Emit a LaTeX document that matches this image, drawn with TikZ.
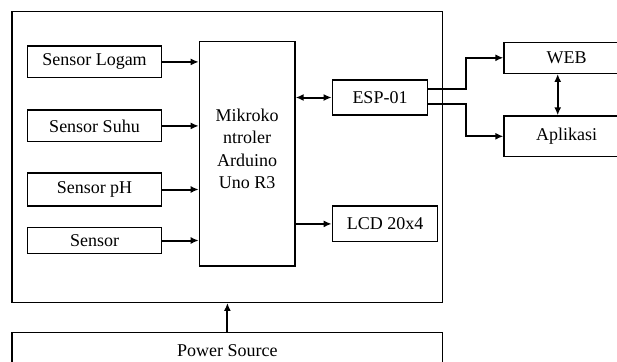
\documentclass[tikz,border=0pt]{standalone}
\usepackage{fontspec}
\setmainfont{Liberation Serif}
\usetikzlibrary{arrows.meta}

\begin{document}
\begin{tikzpicture}[x=1pt,y=-1pt,>={Latex[length=8pt,width=7pt]},
    font=\fontsize{18}{22.5}\selectfont,
    box/.style={draw,line width=1.3pt,inner sep=0pt,align=center},
    link/.style={line width=2pt}]
  \useasboundingbox (0,0) rectangle (617,361);

  % main unit and its parts
  \node[box,minimum width=430.7pt,minimum height=290.6pt] (unit) at (227.4,157) {};
  \node[box,minimum width=134.4pt,minimum height=31.7pt] (logam) at (94.5,61.9) {Sensor Logam};
  \node[box,minimum width=134.4pt,minimum height=31.7pt] (suhu) at (94.5,125.9) {Sensor Suhu};
  \node[box,minimum width=134.4pt,minimum height=33pt] (ph) at (94.5,189.5) {Sensor pH};
  \node[box,minimum width=134.4pt,minimum height=25.6pt] (sensor) at (94.5,240.5) {Sensor};
  \node[box,minimum width=95.7pt,minimum height=224.3pt] (mcu) at (247.2,153.9)
    {Mikroko\\ntroler\\Arduino\\Uno R3\\[-12pt]\mbox{}};
  \node[box,minimum width=95.4pt,minimum height=35pt] (esp) at (380,97.5) {ESP-01};
  \node[box,minimum width=105.4pt,minimum height=35.7pt] (lcd) at (385,223.9) {LCD 20x4};

  % outside
  \node[box,minimum width=125.4pt,minimum height=31pt] (web) at (566.7,57.8) {WEB};
  \node[box,minimum width=125.4pt,minimum height=40.7pt] (app) at (566.7,136.3) {Aplikasi};
  \node[box,minimum width=430.7pt,minimum height=35pt] (power) at (227.4,350.2) {Power Source};

  \draw[->,link] (logam.east) -- (logam.east -| mcu.west);
  \draw[->,link] (suhu.east) -- (suhu.east -| mcu.west);
  \draw[->,link] (ph.east) -- (ph.east -| mcu.west);
  \draw[->,link] (sensor.east) -- (sensor.east -| mcu.west);
  \draw[<->,link] (esp.west) -- (esp.west -| mcu.east);
  \draw[->,link] (lcd.west -| mcu.east) -- (lcd.west);
  \draw[->,link] ([yshift=8.2pt]esp.east) -- ++(37.3,0) |- (web.west);
  \draw[->,link] ([yshift=-6.5pt]esp.east) -- ++(37.3,0) |- (app.west);
  \draw[<->,link] ([xshift=-9pt]web.south) -- ([xshift=-9pt]app.north);
  \draw[->,link] (power.north) -- (unit.south);
\end{tikzpicture}
\end{document}
